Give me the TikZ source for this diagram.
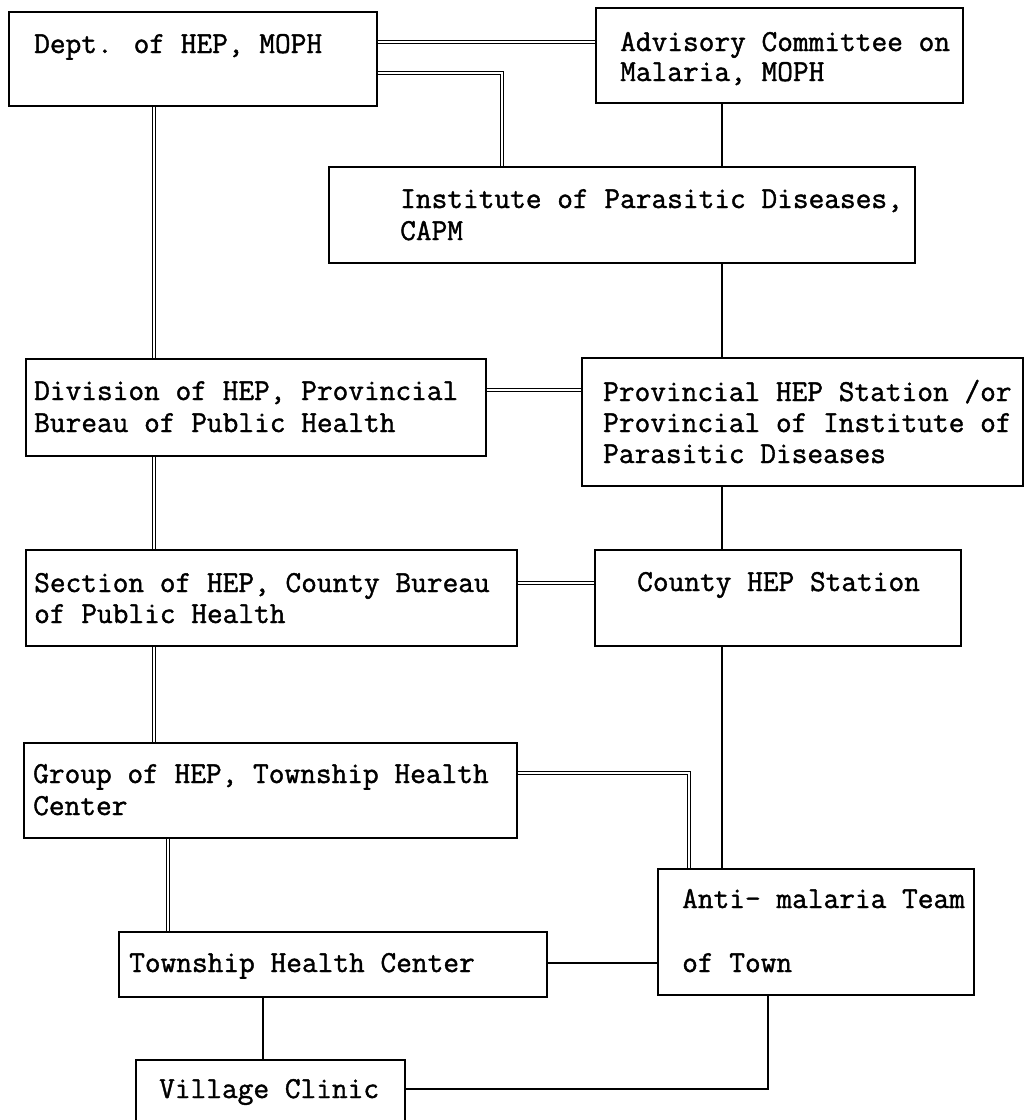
\documentclass[tikz,border=0pt]{standalone}
\usepackage{fontspec}
\newfontfamily\twfont{Latin Modern Mono}[FakeBold=1.3]
\begin{document}
\begin{tikzpicture}[x=1pt,y=-1pt,
  box/.style={draw, line width=1.6pt, rectangle, anchor=north west, inner sep=0pt},
  txt/.style={anchor=base west, inner sep=0pt, font=\fontsize{30.5}{36}\selectfont\twfont},
  dbl/.style={draw, line width=0.9pt, double, double distance=2.4pt},
  sgl/.style={draw, line width=1.4pt}]
\useasboundingbox (0,0) rectangle (1024,1120);
\clip (0,0) rectangle (1024,1120);
% boxes
\node[box, minimum width=368pt, minimum height=94pt] (dept) at (8,11) {};
\node[box, minimum width=367pt, minimum height=95pt] (adv) at (595,7) {};
\node[box, minimum width=586pt, minimum height=96pt] (inst) at (328,166) {};
\node[box, minimum width=460pt, minimum height=97pt] (div) at (25,358) {};
\node[box, minimum width=441pt, minimum height=128pt] (prov) at (581,357) {};
\node[box, minimum width=491pt, minimum height=96pt] (sec) at (25,549) {};
\node[box, minimum width=366pt, minimum height=96pt] (county) at (594,549) {};
\node[box, minimum width=493pt, minimum height=95pt] (group) at (23,742) {};
\node[box, minimum width=316pt, minimum height=126pt] (anti) at (657,868) {};
\node[box, minimum width=428pt, minimum height=65pt] (town) at (118,931) {};
\node[box, minimum width=269pt, minimum height=75pt] (vill) at (135,1059) {};
% texts
\node[txt] (deptA) at (34,53) {Dept. of HEP, MOPH};
\node[txt] (advA) at (620,51) {Advisory Committee on};
\node[txt] (advB) at (620,81) {Malaria, MOPH};
\node[txt] (instA) at (400,208) {Institute of Parasitic Diseases,};
\node[txt] (instB) at (400,240) {CAPM};
\node[txt] (divA) at (34,400) {Division of HEP, Provincial};
\node[txt] (divB) at (34,432) {Bureau of Public Health};
\node[txt] (provA) at (603,401) {Provincial HEP Station /or};
\node[txt] (provB) at (603,432) {Provincial of Institute of};
\node[txt] (provC) at (603,463) {Parasitic Diseases};
\node[txt] (secA) at (34,592) {Section of HEP, County Bureau};
\node[txt] (secB) at (34,623) {of Public Health};
\node[txt] (countyA) at (637,591) {County HEP Station};
\node[txt] (groupA) at (33,783) {Group of HEP, Township Health};
\node[txt] (groupB) at (33,815) {Center};
\node[txt] (antiA) at (682,908) {Anti- malaria Team};
\node[txt] (antiB) at (682,972) {of Town};
\node[txt] (townA) at (129,972) {Township Health Center};
\node[txt] (villA) at (159,1098) {Village Clinic};
% connectors
\draw[dbl] (dept.east |- 0,42) -- (adv.west |- 0,42);
\draw[dbl] (dept.east |- 0,73) -| (inst.north -| 502,0);
\draw[dbl] (dept.south -| 154,0) -- (div.north -| 154,0);
\draw[sgl] (adv.south -| 722,0) -- (inst.north -| 722,0);
\draw[sgl] (inst.south -| 722,0) -- (prov.north -| 722,0);
\draw[dbl] (div.east |- 0,390) -- (prov.west |- 0,390);
\draw[dbl] (div.south -| 154,0) -- (sec.north -| 154,0);
\draw[sgl] (prov.south -| 722,0) -- (county.north -| 722,0);
\draw[dbl] (sec.east |- 0,583) -- (county.west |- 0,583);
\draw[dbl] (sec.south -| 154,0) -- (group.north -| 154,0);
\draw[sgl] (county.south -| 722,0) -- (anti.north -| 722,0);
\draw[dbl] (group.east |- 0,773) -| (anti.north -| 689,0);
\draw[dbl] (group.south -| 168,0) -- (town.north -| 168,0);
\draw[sgl] (town.east |- 0,963) -- (anti.west |- 0,963);
\draw[sgl] (town.south -| 263,0) -- (vill.north -| 263,0);
\draw[sgl] (vill.east |- 0,1089) -| (anti.south -| 768,0);
\end{tikzpicture}
\end{document}
